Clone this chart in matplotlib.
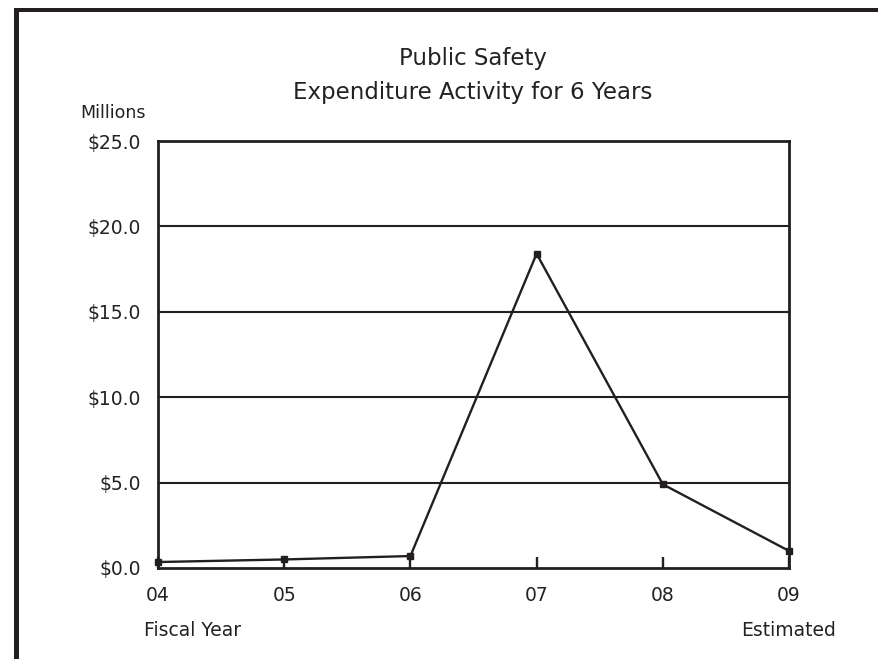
import matplotlib
matplotlib.use("Agg")
import matplotlib.pyplot as plt
from matplotlib.patches import Rectangle

years = ["04", "05", "06", "07", "08", "09"]
spending = [0.35, 0.5, 0.7, 18.4, 4.9, 1.0]  # millions of dollars
y_ticks = [0, 5, 10, 15, 20, 25]
y_labels = ["$0.0", "$5.0", "$10.0", "$15.0", "$20.0", "$25.0"]

INK = "#231f20"
W, H = 879, 659

plt.rcParams["font.family"] = ["DejaVu Sans"]
fig = plt.figure(figsize=(W / 100, H / 100), dpi=100)
ax = fig.add_axes([158 / W, 1 - 568 / H, (789 - 158) / W, (568 - 141) / H])

x = list(range(len(years)))
ax.plot(x, spending, color=INK, lw=1.7, marker="s", ms=5, mfc=INK, mec=INK,
        zorder=4, clip_on=False)

ax.set_xlim(0, len(years) - 1)
ax.set_ylim(0, 25)
for v in y_ticks[1:-1]:
    ax.axhline(v, color=INK, lw=1.5, zorder=1)

ax.set_xticks(x)
ax.set_xticklabels(years)
ax.set_yticks(y_ticks)
ax.set_yticklabels(y_labels)
ax.tick_params(axis="x", direction="in", length=8, width=1.7, color=INK,
               pad=13, labelsize=13.5, labelcolor="#222")
ax.tick_params(axis="y", length=0, pad=12, labelsize=13.5, labelcolor="#222")
for s in ax.spines.values():
    s.set_color(INK)
    s.set_linewidth(2)

fig.text(473 / W, 1 - 58 / H, "Public Safety", ha="center", va="center",
         fontsize=16.5, color="#222")
fig.text(473 / W, 1 - 93 / H, "Expenditure Activity for 6 Years",
         ha="center", va="center", fontsize=16.5, color="#222")
fig.text(80 / W, 1 - 113 / H, "Millions", ha="left", va="center",
         fontsize=12.5, color="#222")
fig.text(144 / W, 1 - 630 / H, "Fiscal Year", ha="left", va="center",
         fontsize=13.5, color="#222")
fig.text(789 / W, 1 - 630 / H, "Estimated", ha="center", va="center",
         fontsize=13.5, color="#222")

# heavy frame along top and left edges
fig.add_artist(Rectangle((14 / W, 0), 5 / W, 1 - 8 / H, transform=fig.transFigure,
                         color=INK, lw=0))
fig.add_artist(Rectangle((14 / W, 1 - 12 / H), 1 - 14 / W, 4 / H,
                         transform=fig.transFigure, color=INK, lw=0))

fig.savefig("out.png", dpi=100)
